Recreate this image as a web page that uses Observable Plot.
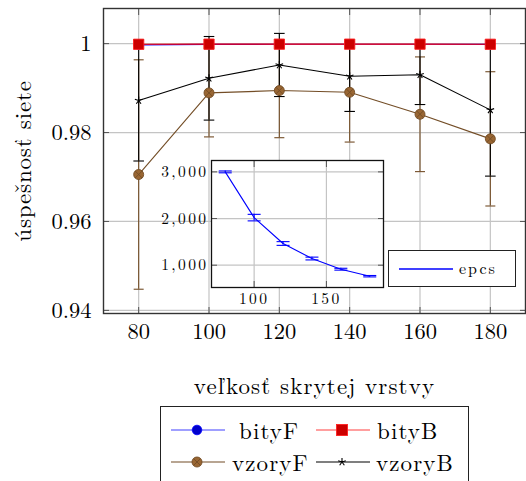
<!DOCTYPE html>
<html>
<head>
<meta charset="utf-8">
<script src="https://cdn.jsdelivr.net/npm/d3@7"></script>
<script src="https://cdn.jsdelivr.net/npm/@observablehq/plot@0.6"></script>
<style>
  html, body { margin: 0; padding: 0; background: white; overflow: hidden; }
  #wrap { position: relative; width: 526px; height: 481px; font-family: 'Latin Modern Roman', 'Liberation Serif', serif; }
  #main { position: absolute; left: 0; top: 0; }
  #inset { position: absolute; left: 140px; top: 150px; }
  .box { position: absolute; border: 1.3px solid #222; background: white; box-sizing: border-box; }
  .lbl { position: absolute; font-size: 23px; line-height: 22px; letter-spacing: 1.1px; white-space: nowrap; }
  .sw { position: absolute; }
  svg text { font-family: 'Latin Modern Roman', 'Liberation Serif', serif; }
</style>
</head>
<body>
<div id="wrap">
  <div id="main"></div>
  <div id="inset"></div>
  <div class="box" id="epcsBox" style="left:388px; top:250px; width:128px; height:37px;"></div>
  <div class="box" id="legend" style="left:160px; top:406px; width:309px; height:90px;"></div>
</div>
<script>
// ---- data ----
const sizes = [80, 100, 120, 140, 160, 180];
const bityF = [0.99972, 0.99982, 0.99985, 0.99985, 0.99985, 0.99982];
const bityFErr = [0.0002, 0.0001, 0.0001, 0.0001, 0.0001, 0.0001];
const bityB = [0.99985, 0.99988, 0.99988, 0.99988, 0.99988, 0.99985];
const bityBErr = [0.0001, 0.0001, 0.0001, 0.0001, 0.0001, 0.0001];
const vzoryF = [0.97056, 0.98892, 0.98944, 0.98906, 0.98411, 0.97858];
const vzoryFErr = [0.0258, 0.0099, 0.0106, 0.0112, 0.0129, 0.0151];
const vzoryB = [0.9872, 0.9922, 0.9952, 0.99265, 0.9930, 0.9851];
const vzoryBErr = [0.0136, 0.0094, 0.0071, 0.0079, 0.0067, 0.0149];
const epcs = [3000, 2020, 1465, 1143, 914, 764];
const epcsErr = [20, 70, 40, 30, 20, 15];
const yTicks = [0.94, 0.96, 0.98, 1];
const insetXTicks = [100, 150];
const insetYTicks = [1000, 2000, 3000];
const seriesNames = ["bityF", "bityB", "vzoryF", "vzoryB"];
const xLabel = "veľkosť skrytej vrstvy";
const yLabel = "úspešnosť siete";
const insetLabel = "epcs";

const FONT = "'Latin Modern Roman', 'Liberation Serif', serif";

// ---- colors (pgfplots default cycle) ----
const C = {
  bityF: {line: "#0000ff", fill: "#0000cc"},
  bityB: {line: "#ff0000", fill: "#cc0000"},
  vzoryF: {line: "#734d26", fill: "#996633"},
  vzoryB: {line: "#000000", fill: "#000000"}
};

function rows(vals, errs, name) {
  return sizes.map((x, i) => ({x, y: vals[i], lo: vals[i] - errs[i], hi: vals[i] + errs[i], s: name}));
}
const dF = rows(bityF, bityFErr, "bityF");
const dB = rows(bityB, bityBErr, "bityB");
const dVF = rows(vzoryF, vzoryFErr, "vzoryF");
const dVB = rows(vzoryB, vzoryBErr, "vzoryB");
const dE = sizes.map((x, i) => ({x, y: epcs[i], lo: epcs[i] - epcsErr[i], hi: epcs[i] + epcsErr[i]}));

// ---- custom symbols ----
const capSym = {draw(ctx, size) { const r = Math.sqrt(size / Math.PI); ctx.moveTo(-r, 0); ctx.lineTo(r, 0); }};
const starSym = {draw(ctx, size) {
  const r = Math.sqrt(size / Math.PI);
  for (let i = 0; i < 5; i++) { const a = Math.PI / 2 + i * 2 * Math.PI / 5; ctx.moveTo(0, 0); ctx.lineTo(r * Math.cos(a), -r * Math.sin(a)); }
}};
const otimesSym = {draw(ctx, size) {
  const r = Math.sqrt(size / Math.PI);
  ctx.moveTo(r, 0); ctx.arc(0, 0, r, 0, 2 * Math.PI);
  const s = r / Math.SQRT2;
  ctx.moveTo(-s, -s); ctx.lineTo(s, s); ctx.moveTo(-s, s); ctx.lineTo(s, -s);
}};

function errMarks(data, color, capR) {
  return [
    Plot.ruleX(data, {x: "x", y1: "lo", y2: "hi", stroke: color, strokeWidth: 1.1}),
    Plot.dot(data, {x: "x", y: "lo", symbol: capSym, r: capR, stroke: color, strokeWidth: 1.1}),
    Plot.dot(data, {x: "x", y: "hi", symbol: capSym, r: capR, stroke: color, strokeWidth: 1.1})
  ];
}

const gridStroke = "#c4c4c4";
const tickStroke = "#555";

const main = Plot.plot({
  width: 526, height: 400,
  marginLeft: 103, marginRight: 1, marginTop: 8, marginBottom: 87,
  x: {domain: [70, 190]},
  y: {domain: [0.9393, 1.0079]},
  style: {fontFamily: FONT, fontSize: "22.5px", color: "black", background: "transparent"},
  marks: [
    Plot.gridX(sizes, {x: d => d, stroke: gridStroke, strokeOpacity: 1, strokeWidth: 1.2}),
    Plot.gridY(yTicks, {y: d => d, stroke: gridStroke, strokeOpacity: 1, strokeWidth: 1.2}),
    Plot.axisX({ticks: sizes, tickSize: -6, tickPadding: 16, stroke: tickStroke, label: xLabel, labelAnchor: "center", labelOffset: 80, labelArrow: "none"}),
    Plot.axisX({anchor: "top", ticks: sizes, tickSize: -6, stroke: tickStroke, tickFormat: () => "", label: null}),
    Plot.axisY({ticks: yTicks, tickSize: -6, tickPadding: 18, stroke: tickStroke, tickFormat: d => String(d), label: yLabel, labelAnchor: "center", labelOffset: 89, labelArrow: "none"}),
    Plot.axisY({anchor: "right", ticks: yTicks, tickSize: -6, stroke: tickStroke, tickFormat: () => "", label: null}),
    Plot.frame({stroke: "#333", strokeWidth: 1.4}),
    Plot.line(dF, {x: "x", y: "y", stroke: C.bityF.line, strokeWidth: 1.1}),
    ...errMarks(dF, C.bityF.line, 5),
    Plot.line(dB, {x: "x", y: "y", stroke: C.bityB.line, strokeWidth: 1.1}),
    ...errMarks(dB, C.bityB.line, 5),
    Plot.line(dVF, {x: "x", y: "y", stroke: C.vzoryF.line, strokeWidth: 1.1}),
    ...errMarks(dVF, C.vzoryF.line, 5),
    Plot.line(dVB, {x: "x", y: "y", stroke: C.vzoryB.line, strokeWidth: 1.1}),
    ...errMarks(dVB, C.vzoryB.line, 5.3),
    Plot.dot(dF, {x: "x", y: "y", r: 4.5, fill: C.bityF.fill, stroke: C.bityF.line, strokeWidth: 0.8}),
    Plot.dot(dB, {x: "x", y: "y", symbol: "square", r: 5.8, fill: C.bityB.fill, stroke: "#ff2020", strokeWidth: 0.9}),
    Plot.dot(dVF, {x: "x", y: "y", symbol: otimesSym, r: 5, fill: C.vzoryF.fill, stroke: C.vzoryF.line, strokeWidth: 0.9}),
    Plot.dot(dVB, {x: "x", y: "y", symbol: starSym, r: 4, stroke: C.vzoryB.line, strokeWidth: 1.1})
  ]
});
document.getElementById("main").appendChild(main);
// axis titles: slightly larger, spaced like the reference
d3.select(main).selectAll('[aria-label="x-axis label"] text').style("font-size", "23px").style("letter-spacing", "1.1px");
d3.select(main).selectAll('[aria-label="y-axis label"] text').style("font-size", "23px").style("letter-spacing", "0.8px");

// ---- inset ----
const inset = Plot.plot({
  width: 250, height: 165,
  marginLeft: 71, marginRight: 7, marginTop: 10, marginBottom: 28,
  x: {domain: [70.5, 189.5]},
  y: {domain: [522, 3244]},
  style: {fontFamily: FONT, fontSize: "15.5px", color: "black", background: "transparent", letterSpacing: "2.4px"},
  marks: [
    Plot.frame({fill: "white", stroke: "none"}),
    Plot.gridX(insetXTicks, {x: d => d, stroke: gridStroke, strokeOpacity: 1, strokeWidth: 1.2}),
    Plot.gridY(insetYTicks, {y: d => d, stroke: gridStroke, strokeOpacity: 1, strokeWidth: 1.2}),
    Plot.axisX({ticks: insetXTicks, tickSize: -6, tickPadding: 11, stroke: tickStroke, label: null}),
    Plot.axisX({anchor: "top", ticks: insetXTicks, tickSize: -6, stroke: tickStroke, tickFormat: () => "", label: null}),
    Plot.axisY({ticks: insetYTicks, tickSize: -6, tickPadding: 9, stroke: tickStroke, tickFormat: d3.format(","), label: null}),
    Plot.axisY({anchor: "right", ticks: insetYTicks, tickSize: -6, stroke: tickStroke, tickFormat: () => "", label: null}),
    Plot.frame({stroke: "#111", strokeWidth: 1.3}),
    Plot.line(dE, {x: "x", y: "y", stroke: "#0000ff", strokeWidth: 1.1}),
    ...errMarks(dE, "#0000ff", 6.5)
  ]
});
document.getElementById("inset").appendChild(inset);

// ---- epcs legend ----
const eb = document.getElementById("epcsBox");
eb.innerHTML = `<svg class="sw" style="left:9px; top:12px" width="56" height="12"><line x1="1" y1="6" x2="55" y2="6" stroke="#0000ff" stroke-width="1.3"/></svg>
<div class="lbl" style="left:70px; top:6px; font-size:16px; letter-spacing:2px;">${insetLabel}</div>`;

// ---- main legend ----
function swatch(name) {
  const c = C[name];
  let mk = "";
  if (name === "bityF") mk = `<circle cx="27" cy="9" r="4.8" fill="${c.fill}" stroke="${c.line}" stroke-width="0.8"/>`;
  if (name === "bityB") mk = `<rect x="21.5" y="3.5" width="11" height="11" fill="${c.fill}" stroke="#ff2020" stroke-width="0.9"/>`;
  if (name === "vzoryF") mk = `<circle cx="27" cy="9" r="5" fill="${c.fill}" stroke="${c.line}" stroke-width="0.9"/><path d="M23.5,5.5L30.5,12.5M23.5,12.5L30.5,5.5" stroke="${c.line}" stroke-width="0.9"/>`;
  if (name === "vzoryB") {
    let p = "";
    for (let i = 0; i < 5; i++) { const a = Math.PI / 2 + i * 2 * Math.PI / 5; p += `M27,9L${27 + 4 * Math.cos(a)},${9 - 4 * Math.sin(a)}`; }
    mk = `<path d="${p}" stroke="black" stroke-width="1.1"/>`;
  }
  const op = name === "bityF" || name === "bityB" ? 0.75 : 1;
  return `<svg width="56" height="18"><line x1="1" y1="9" x2="55" y2="9" stroke="${c.line}" stroke-width="1.2" stroke-opacity="${op}"/>${mk}</svg>`;
}
const lg = document.getElementById("legend");
const pos = [
  {sx: 9, sy: 14, tx: 78, ty: 12},
  {sx: 154, sy: 14, tx: 216, ty: 12},
  {sx: 9, sy: 46, tx: 71, ty: 44},
  {sx: 154, sy: 46, tx: 215, ty: 44}
];
seriesNames.forEach((n, i) => {
  const p = pos[i];
  lg.insertAdjacentHTML("beforeend", `<div class="sw" style="left:${p.sx}px; top:${p.sy}px">${swatch(n)}</div><div class="lbl" style="left:${p.tx}px; top:${p.ty}px">${n}</div>`);
});
</script>
</body>
</html>
